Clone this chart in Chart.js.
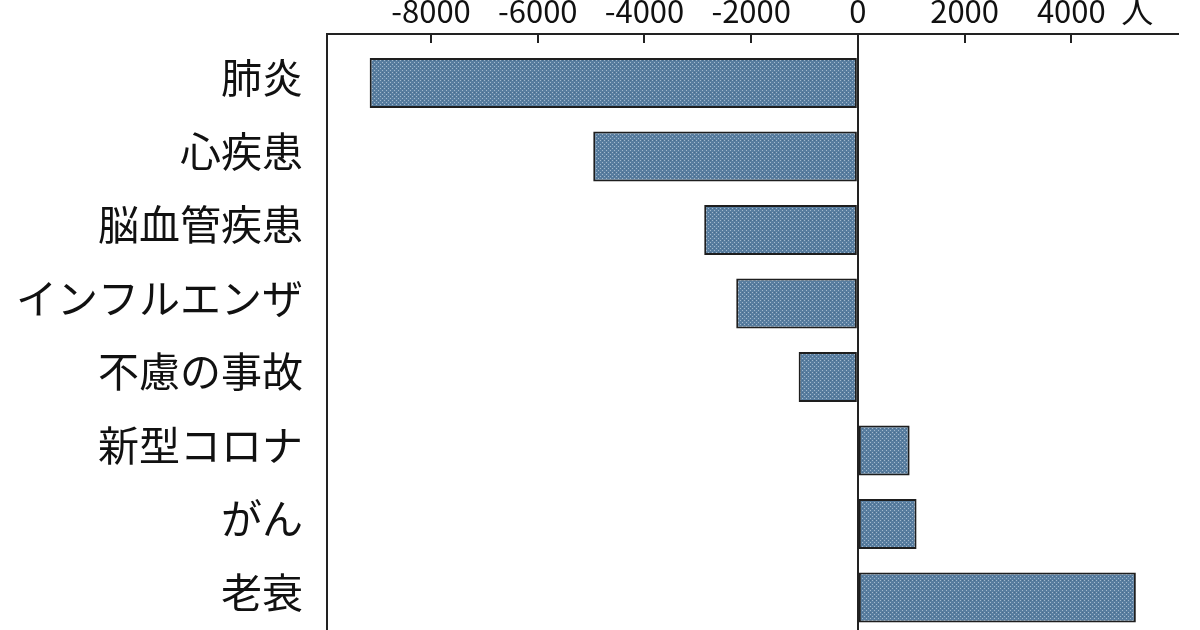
<!DOCTYPE html>
<html lang="ja">
<head>
<meta charset="utf-8">
<title>死因別の死亡数の増減</title>
<script src="https://cdn.jsdelivr.net/npm/chart.js@4"></script>
<style>
  html, body { margin: 0; padding: 0; background: #fff; overflow: hidden; }
  #wrap { width: 1200px; height: 630px; }
</style>
</head>
<body>
<div id="wrap"><canvas id="causeChart"></canvas></div>
<script>
// 死因（上から順に）
const causes = ["肺炎", "心疾患", "脳血管疾患", "インフルエンザ", "不慮の事故", "新型コロナ", "がん", "老衰"];
// 前年からの増減（人）
const changes = [-9150, -4960, -2880, -2280, -1110, 970, 1100, 5210];
// 目盛り
const xTicks = [-8000, -6000, -4000, -2000, 0, 2000, 4000];

// 点描風の塗り
function dotPattern() {
  const c = document.createElement("canvas");
  c.width = 4;
  c.height = 4;
  const g = c.getContext("2d");
  g.fillStyle = "#587d9f";
  g.fillRect(0, 0, 4, 4);
  g.fillStyle = "#a3b9cd";
  g.fillRect(0, 0, 1, 1);
  g.fillRect(2, 2, 1, 1);
  g.fillStyle = "#4a6d8d";
  g.fillRect(2, 0, 1, 1);
  return g.createPattern(c, "repeat");
}

// 単位「人」
const unitLabel = {
  id: "unitLabel",
  afterDraw(chart) {
    const ctx = chart.ctx;
    const x = chart.scales.x.getPixelForValue(4000) + 66;
    ctx.save();
    ctx.font = '32px "Noto Sans CJK JP"';
    ctx.fillStyle = "#111";
    ctx.textAlign = "center";
    ctx.textBaseline = "middle";
    ctx.fillText("人", x, 11);
    ctx.restore();
  }
};

Chart.defaults.font.family = '"Noto Sans CJK JP", "Noto Sans", sans-serif';
Chart.defaults.color = "#111";

const ctx = document.getElementById("causeChart").getContext("2d");
new Chart(ctx, {
  type: "bar",
  data: {
    datasets: [
      {
        data: causes.map((c, i) => ({ x: changes[i], y: i })),
        backgroundColor: dotPattern(),
        borderColor: "#1e1e1e",
        borderWidth: 2,
        borderSkipped: false,
        categoryPercentage: 1,
        barPercentage: 0.68,
      },
    ],
  },
  options: {
    indexAxis: "y",
    responsive: true,
    maintainAspectRatio: false,
    animation: false,
    layout: { padding: { top: 0, right: 22, bottom: 0, left: 0 } },
    plugins: {
      legend: { display: false },
      tooltip: { enabled: false },
    },
    scales: {
      x: {
        type: "linear",
        position: "top",
        min: -9950,
        max: 6000,
        afterBuildTicks: (scale) => {
          scale.ticks = xTicks.map((v) => ({ value: v }));
        },
        afterFit: (scale) => {
          scale.height = 34;
        },
        ticks: {
          font: { size: 31, lineHeight: 0.73 },
          color: "#111",
          padding: 20,
          maxRotation: 0,
          callback: (v) => String(v),
        },
        grid: {
          drawOnChartArea: true,
          color: (c) => (c.tick && c.tick.value === 0 ? "#222" : "rgba(0,0,0,0)"),
          tickColor: "#222",
          tickLength: -9,
          lineWidth: 2,
        },
        border: { display: true, color: "#222", width: 2 },
      },
      y: {
        type: "linear",
        reverse: true,
        offset: false,
        min: -0.667,
        max: 7.442,
        afterBuildTicks: (scale) => {
          scale.ticks = causes.map((c, i) => ({ value: i }));
        },
        afterFit: (scale) => {
          scale.width = 327;
          scale.paddingTop = 0;
          scale.paddingBottom = 0;
        },
        ticks: {
          font: { size: 41, lineHeight: 0.27 },
          color: "#111",
          padding: 16,
          // 2行目を空にして文字を少し上げる
          callback: (v) => [causes[v], ""],
        },
        grid: { display: false, offset: false },
        border: { display: true, color: "#222", width: 2 },
      },
    },
  },
  plugins: [unitLabel],
});
</script>
</body>
</html>
